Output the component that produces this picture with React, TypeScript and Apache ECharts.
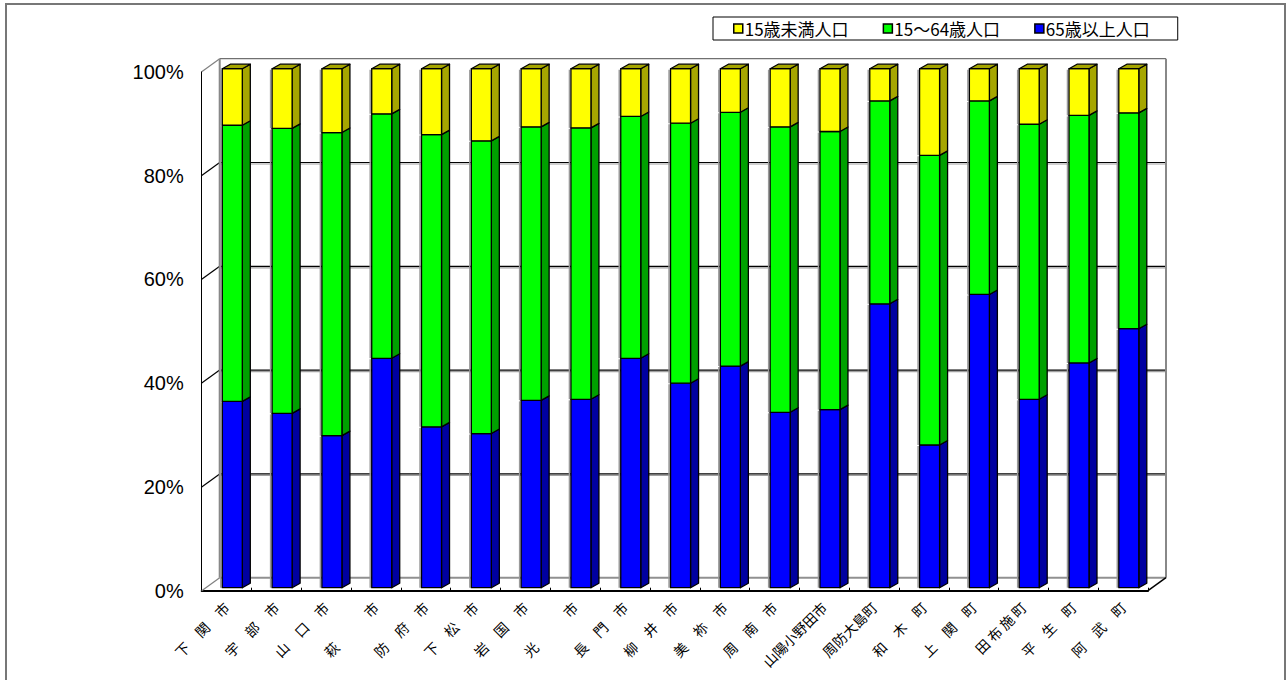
import React, { useEffect, useRef } from "react";
import * as echarts from "echarts";

const categories = [
  "下　関　市", "宇　部　市", "山　口　市", "萩　　　市", "防　府　市",
  "下　松　市", "岩　国　市", "光　　　市", "長　門　市", "柳　井　市",
  "美　祢　市", "周　南　市", "山陽小野田市", "周防大島町", "和　木　町",
  "上　関　町", "田 布 施 町", "平　生　町", "阿　武　町",
];
const seriesNames = ["15歳未満人口", "15～64歳人口", "65歳以上人口"];
const under15 = [10.9, 11.5, 12.3, 8.7, 12.7, 13.9, 11.2, 11.4, 9.2, 10.5, 8.4, 11.2, 12.1, 6.2, 16.7, 6.2, 10.7, 9.0, 8.5];
const age15to64 = [53.2, 54.9, 58.4, 47.1, 56.3, 56.4, 52.7, 52.3, 46.6, 50.1, 48.9, 55.0, 53.6, 39.1, 55.8, 37.3, 53.0, 47.7, 41.6];
const over65 = [35.9, 33.6, 29.3, 44.2, 31.0, 29.7, 36.1, 36.3, 44.2, 39.4, 42.7, 33.8, 34.3, 54.7, 27.5, 56.5, 36.3, 43.3, 49.9];
const yTicks = [0, 20, 40, 60, 80, 100];

const FRONT = { yellow: "#ffff00", green: "#00ff00", blue: "#0000ff" };
const SIDE = { yellow: "#a6a600", green: "#00a000", blue: "#0000a0" };

const BAR_DX = 5.7;
const BAR_DY = -3;
const BAR_W = 20;
const DEPTH_X = 8;
const DEPTH_Y = -4.5;
const WALL_DX = 18;
const WALL_DY = -13;

function barRenderer(front: string, side: string, drawTop: boolean) {
  return (params: any, api: any) => {
    const i = api.value(0);
    const lo = api.value(1);
    const hi = api.value(2);
    const pLo = api.coord([i, lo]);
    const pHi = api.coord([i, hi]);
    const x0 = pLo[0] + BAR_DX - BAR_W / 2;
    const x1 = x0 + BAR_W;
    const yb = pLo[1] + BAR_DY;
    const yt = pHi[1] + BAR_DY;
    const stroke = { stroke: "#000", lineWidth: 1.3, lineJoin: "round" };
    const children: any[] = [
      {
        type: "line",
        shape: { x1: x0 - 1.5, y1: yt + 1, x2: x0 - 1.5, y2: yb },
        style: { stroke: "#9a9a9a", lineWidth: 1.5 },
      },
      {
        type: "polygon",
        shape: { points: [[x1, yb], [x1, yt], [x1 + DEPTH_X, yt + DEPTH_Y], [x1 + DEPTH_X, yb + DEPTH_Y]] },
        style: { fill: side, ...stroke },
      },
      {
        type: "rect",
        shape: { x: x0, y: yt, width: BAR_W, height: yb - yt },
        style: { fill: front, ...stroke },
      },
    ];
    if (drawTop) {
      children.push({
        type: "polygon",
        shape: { points: [[x0, yt], [x0 + DEPTH_X, yt + DEPTH_Y], [x1 + DEPTH_X, yt + DEPTH_Y], [x1, yt]] },
        style: { fill: side, ...stroke },
      });
    }
    return { type: "group", children };
  };
}

function frameRenderer(params: any, api: any) {
  const cs = params.coordSys;
  const L = cs.x;
  const R = cs.x + cs.width;
  const children: any[] = [];
  const y0 = api.coord([0, 0])[1];
  const y100 = api.coord([0, 100])[1];
  children.push({
    type: "rect",
    shape: { x: L + WALL_DX, y: y100 + WALL_DY, width: R - L, height: y0 - y100 },
    style: { fill: "#fff", stroke: null },
  });
  yTicks.forEach((v) => {
    const y = api.coord([0, v])[1];
    const inner = v !== 0 && v !== 100;
    const col = inner ? "#000" : "#808080";
    if (inner) {
      children.push({
        type: "line",
        shape: { x1: L + WALL_DX, y1: y + WALL_DY + 1.5, x2: R + WALL_DX, y2: y + WALL_DY + 1.5 },
        style: { stroke: "#a0a0a0", lineWidth: 1.2 },
      });
    }
    children.push({
      type: "line",
      shape: { x1: L, y1: y, x2: L + WALL_DX, y2: y + WALL_DY },
      style: { stroke: col, lineWidth: 1.2 },
    });
    children.push({
      type: "line",
      shape: { x1: L + WALL_DX, y1: y + WALL_DY, x2: R + WALL_DX, y2: y + WALL_DY },
      style: { stroke: v === 0 ? "#909090" : inner ? "#000" : "#707070", lineWidth: v === 0 ? 2 : 1.2 },
    });
  });
  children.push({
    type: "line",
    shape: { x1: L + WALL_DX, y1: y100 + WALL_DY, x2: L + WALL_DX, y2: y0 + WALL_DY },
    style: { stroke: "#888", lineWidth: 2 },
  });
  children.push({
    type: "line",
    shape: { x1: R + WALL_DX, y1: y100 + WALL_DY, x2: R + WALL_DX, y2: y0 + WALL_DY },
    style: { stroke: "#888", lineWidth: 2 },
  });
  children.push({
    type: "line",
    shape: { x1: R, y1: y0, x2: R + WALL_DX, y2: y0 + WALL_DY },
    style: { stroke: "#000", lineWidth: 1.5 },
  });
  return { type: "group", children };
}

export default function App() {
  const ref = useRef<HTMLDivElement>(null);
  useEffect(() => {
    if (!ref.current) return;
    const chart = echarts.init(ref.current, null, { renderer: "svg" });
    const blueData = categories.map((_, i) => [i, 0, over65[i]]);
    const greenData = categories.map((_, i) => [i, over65[i], over65[i] + age15to64[i]]);
    const yellowData = categories.map((_, i) => [i, over65[i] + age15to64[i], over65[i] + age15to64[i] + under15[i]]);
    chart.setOption({
      animation: false,
      backgroundColor: "#fff",
      graphic: [
        {
          type: "rect",
          shape: { x: 6, y: 4, width: 1279, height: 700 },
          style: { fill: "none", stroke: "#777", lineWidth: 2 },
          silent: true,
        },
      ],
      legend: {
        data: seriesNames,
        left: 713,
        top: 17,
        padding: [3, 28, 3, 20],
        itemGap: 34,
        itemWidth: 9,
        itemHeight: 9,
        icon: "rect",
        borderColor: "#000",
        borderWidth: 1,
        itemStyle: { borderColor: "#000", borderWidth: 1.5 },
        textStyle: { fontSize: 17, color: "#000", fontFamily: "Noto Sans CJK JP", padding: [0, 0, 0, -3] },
        selectedMode: false,
      },
      grid: { left: 201.7, top: 71.7, width: 946.3, height: 519 },
      xAxis: {
        type: "category",
        data: categories,
        boundaryGap: true,
        axisLine: { show: true, lineStyle: { color: "#000", width: 2 } },
        axisTick: { show: true, inside: true, length: 3, lineStyle: { color: "#000" } },
        axisLabel: {
          rotate: 45,
          interval: 0,
          margin: 14,
          fontSize: 14,
          color: "#000",
          fontFamily: "Noto Sans CJK JP",
        },
        splitLine: { show: false },
      },
      yAxis: {
        type: "value",
        min: 0,
        max: 100,
        interval: 20,
        axisLine: { show: true, lineStyle: { color: "#000", width: 1 } },
        axisTick: { show: false },
        splitLine: { show: false },
        axisLabel: {
          formatter: "{value}%",
          margin: 18,
          fontSize: 20,
          color: "#000",
          fontFamily: "Liberation Sans",
        },
      },
      series: [
        {
          type: "custom",
          name: "frame",
          z: 1,
          silent: true,
          renderItem: frameRenderer,
          data: [[0, 0]],
          encode: { x: 0, y: 1 },
        },
        {
          type: "custom",
          name: seriesNames[2],
          z: 2,
          itemStyle: { color: FRONT.blue },
          renderItem: barRenderer(FRONT.blue, SIDE.blue, false),
          data: blueData,
          encode: { x: 0, y: [1, 2] },
        },
        {
          type: "custom",
          name: seriesNames[1],
          z: 3,
          itemStyle: { color: FRONT.green },
          renderItem: barRenderer(FRONT.green, SIDE.green, false),
          data: greenData,
          encode: { x: 0, y: [1, 2] },
        },
        {
          type: "custom",
          name: seriesNames[0],
          z: 4,
          itemStyle: { color: FRONT.yellow },
          renderItem: barRenderer(FRONT.yellow, SIDE.yellow, true),
          data: yellowData,
          encode: { x: 0, y: [1, 2] },
        },
      ],
    });
    return () => chart.dispose();
  }, []);
  return (
    <div
      ref={ref}
      style={{ position: "absolute", left: 0, top: 0, width: 1287, height: 680 }}
    />
  );
}
